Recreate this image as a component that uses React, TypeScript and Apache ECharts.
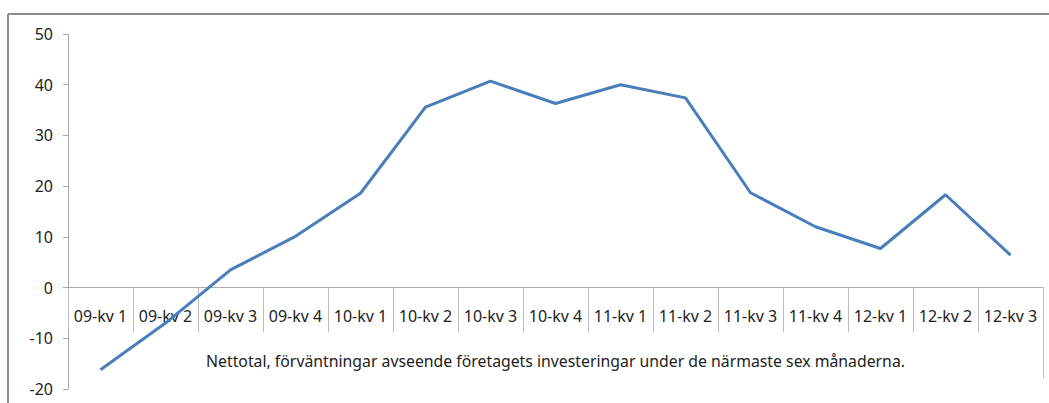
import React, { useEffect, useRef } from "react";
import * as echarts from "echarts";

const categories = [
  "09-kv 1", "09-kv 2", "09-kv 3", "09-kv 4",
  "10-kv 1", "10-kv 2", "10-kv 3", "10-kv 4",
  "11-kv 1", "11-kv 2", "11-kv 3", "11-kv 4",
  "12-kv 1", "12-kv 2", "12-kv 3",
];
const values = [-16.2, -7.0, 3.5, 10.1, 18.6, 35.6, 40.7, 36.3, 40.0, 37.4, 18.7, 12.0, 7.7, 18.3, 6.4];
const yTicks = { min: -20, max: 50, interval: 10 };
const axisName = "Nettotal, förväntningar avseende företagets investeringar under de närmaste sex månaderna.";

const FONT = "Noto Sans";
const GRID_TOP = 34;
const GRID_BOTTOM = 14;
const HEIGHT = 403;

export default function App() {
  const ref = useRef<HTMLDivElement>(null);
  useEffect(() => {
    document.body.style.margin = "0";
    const chart = echarts.init(ref.current!, null, { renderer: "svg" });
    const plotH = HEIGHT - GRID_TOP - GRID_BOTTOM;
    const zeroFromBottom = ((0 - yTicks.min) / (yTicks.max - yTicks.min)) * plotH;
    chart.setOption({
      animation: false,
      backgroundColor: "#fff",
      grid: { left: 68, right: 6, top: GRID_TOP, bottom: GRID_BOTTOM, containLabel: false, outerBoundsMode: "none" },
      xAxis: {
        type: "category",
        data: categories,
        boundaryGap: true,
        position: "bottom",
        offset: -zeroFromBottom,
        axisLine: { onZero: false, lineStyle: { color: "#aaa", width: 1 } },
        axisTick: { show: true, length: 45, interval: 0, lineStyle: { color: "#bbb", width: 1 } },
        axisLabel: { interval: 0, margin: 20, color: "#222", fontSize: 16, fontFamily: FONT },
        name: axisName,
        nameLocation: "middle",
        nameGap: 65,
        nameTextStyle: { color: "#222", fontSize: 15.8, fontFamily: FONT },
      },
      yAxis: {
        type: "value",
        min: yTicks.min,
        max: yTicks.max,
        interval: yTicks.interval,
        splitLine: { show: false },
        axisLine: { show: true, lineStyle: { color: "#aaa", width: 1 } },
        axisTick: { show: true, length: 5, lineStyle: { color: "#aaa" } },
        axisLabel: { margin: 15, color: "#222", fontSize: 16, fontFamily: FONT },
      },
      series: [
        {
          type: "line",
          data: values,
          symbol: "none",
          lineStyle: { color: "#4a7ebb", width: 3 },
        },
      ],
      graphic: [
        { type: "line", shape: { x1: 8, y1: 14, x2: 1049, y2: 14 }, style: { stroke: "#8c8c8c", lineWidth: 2 } },
        { type: "line", shape: { x1: 8, y1: 14, x2: 8, y2: 403 }, style: { stroke: "#8c8c8c", lineWidth: 2 } },
        { type: "line", shape: { x1: 1043.5, y1: 288, x2: 1043.5, y2: 378 }, style: { stroke: "#bbb", lineWidth: 1 } },
      ],
    });
    return () => chart.dispose();
  }, []);
  return <div ref={ref} style={{ width: 1049, height: 403 }} />;
}
